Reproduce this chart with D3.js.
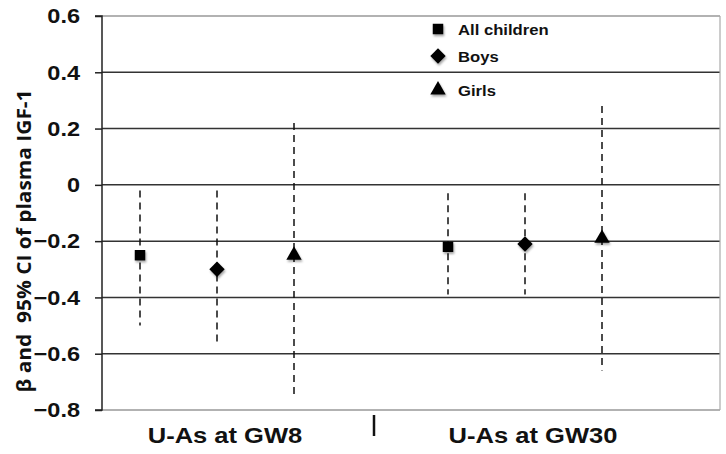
<!DOCTYPE html>
<html><head><meta charset="utf-8">
<script src="https://cdn.jsdelivr.net/npm/d3@7"></script>
<style>body{margin:0;background:#fff}svg{display:block;font-family:"Liberation Sans",Arial,sans-serif}</style>
</head><body><svg id="c" width="726" height="454"></svg>
<script>
const groups = ["U-As at GW8", "U-As at GW30"];
const series = ["All children", "Boys", "Girls"];
const symbolsOf = ["square", "diamond", "triangle"];
const beta  = [[-0.25, -0.30, -0.25], [-0.22, -0.21, -0.19]];
const lower = [[-0.50, -0.56, -0.75], [-0.39, -0.39, -0.66]];
const upper = [[-0.02, -0.02, 0.22], [-0.03, -0.03, 0.28]];
const yTicks = [0.6, 0.4, 0.2, 0, -0.2, -0.4, -0.6, -0.8];
const yLabel = "β and  95% CI of plasma IGF-1";

const svg = d3.select("#c");
const L = 102, R = 720, T = 16, B = 410;
const y = d3.scaleLinear().domain([-0.8, 0.6]).range([B, T]);
const xg = d3.scalePoint().domain(groups).range([217, 525]);
const xs = d3.scalePoint().domain(series).range([-77, 77]);

function stretch(sel, factor) {
  sel.each(function() {
    const len = this.getComputedTextLength();
    d3.select(this).attr("textLength", len * factor).attr("lengthAdjust", "spacingAndGlyphs");
  });
}

const defs = svg.append("defs");
const f = defs.append("filter").attr("id","sh").attr("x","-50%").attr("y","-50%").attr("width","200%").attr("height","200%");
f.append("feDropShadow").attr("dx",1).attr("dy",2).attr("stdDeviation",1.2).attr("flood-color","#000").attr("flood-opacity",0.35);

// gridlines
svg.append("g").selectAll("line").data(yTicks).join("line")
  .attr("x1", L).attr("x2", R).attr("y1", d => y(d)).attr("y2", d => y(d))
  .attr("stroke", d => (d === 0.6 || d === -0.8) ? "#999" : "#333").attr("stroke-width", 1.5);
svg.append("line").attr("x1", R).attr("x2", R).attr("y1", T).attr("y2", B).attr("stroke", "#aaa").attr("stroke-width", 1.2);

// y axis
const ya = svg.append("g").attr("transform", `translate(${L},0)`)
  .call(d3.axisLeft(y).tickValues(yTicks).tickSize(7).tickPadding(15).tickFormat(d => d === 0 ? "0" : d3.format(".1f")(d)));
ya.select(".domain").attr("stroke", "#222").attr("stroke-width", 1.5).attr("d", `M-7,${T}H0V${B}H-7`);
ya.selectAll(".tick line").attr("stroke", "#222").attr("stroke-width", 1.5);
ya.selectAll(".tick text").attr("font-size", 21).attr("font-weight", "bold").attr("fill", "#111")
  .attr("font-family", "Liberation Sans, Arial, sans-serif").call(stretch, 1.12);

svg.append("text").attr("transform", `translate(24,241) rotate(-90)`)
  .attr("text-anchor", "middle").attr("font-size", 20).attr("font-weight", "bold").attr("fill", "#111")
  .attr("font-family", "Open Sans, sans-serif").attr("dy", "0.35em")
  .attr("xml:space","preserve").attr("textLength", 303).attr("lengthAdjust", "spacingAndGlyphs").text(yLabel);

// x labels & separator
svg.append("g").selectAll("text").data(groups).join("text")
  .attr("x", d => xg(d) + 8).attr("y", 443).attr("text-anchor", "middle")
  .attr("font-size", 22).attr("font-weight", "bold").attr("fill", "#111").text(d => d).call(stretch, 1.16);
svg.append("line").attr("x1", (xg(groups[0]) + xg(groups[1])) / 2 + 3).attr("x2", (xg(groups[0]) + xg(groups[1])) / 2 + 3)
  .attr("y1", 415).attr("y2", 436).attr("stroke", "#111").attr("stroke-width", 2.5);

// data
const pts = [];
groups.forEach((g, gi) => series.forEach((s, si) => pts.push({g, s, si, b: beta[gi][si], lo: lower[gi][si], hi: upper[gi][si]})));
const symSize = {square: 110, diamond: 150, triangle: 170};
const symType = {square: d3.symbolSquare, diamond: d3.symbolDiamond2, triangle: d3.symbolTriangle2};
const px = d => xg(d.g) + xs(d.s);

svg.append("g").selectAll("line").data(pts).join("line")
  .attr("x1", px).attr("x2", px).attr("y1", d => y(d.hi)).attr("y2", d => y(d.lo))
  .attr("stroke", "#111").attr("stroke-width", 1.5).attr("stroke-dasharray", "7,5");

svg.append("g").selectAll("path").data(pts).join("path")
  .attr("transform", d => `translate(${px(d)},${y(d.b)})`)
  .attr("d", d => { const k = symbolsOf[d.si]; return d3.symbol(symType[k], symSize[k])(); })
  .attr("fill", "#000").attr("filter", "url(#sh)");

// legend
const lg = svg.append("g");
const ly = [29, 56, 90];
series.forEach((s, i) => {
  const k = symbolsOf[i];
  lg.append("path").attr("transform", `translate(438,${ly[i]})`)
    .attr("d", d3.symbol(symType[k], symSize[k])()).attr("fill", "#000").attr("filter", "url(#sh)");
  lg.append("text").attr("x", 458).attr("y", ly[i] + 6).attr("font-size", 15).attr("font-weight", "bold").attr("fill", "#111")
    .text(s).call(stretch, 1.11);
});
</script></body></html>
